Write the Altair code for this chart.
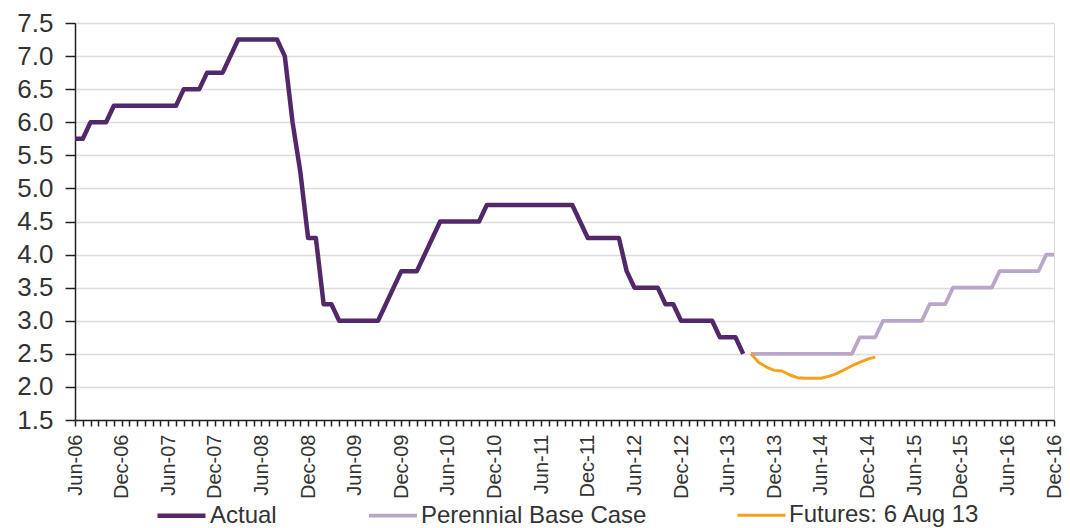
import altair as alt
import pandas as pd

# Month labels Jun-06 .. Dec-16
mon_names = ["Jan", "Feb", "Mar", "Apr", "May", "Jun", "Jul", "Aug", "Sep", "Oct", "Nov", "Dec"]
months = []
y, m = 2006, 5
while (y, m) <= (2016, 11):
    months.append(f"{mon_names[m]}-{y % 100:02d}")
    m += 1
    if m == 12:
        m = 0
        y += 1

# Actual cash rate, Jun-06 .. Aug-13
actual = [
    5.75, 5.75, 6.00, 6.00, 6.00, 6.25, 6.25,
    6.25, 6.25, 6.25, 6.25, 6.25, 6.25, 6.25, 6.50, 6.50, 6.50, 6.75, 6.75,
    6.75, 7.00, 7.25, 7.25, 7.25, 7.25, 7.25, 7.25, 7.00, 6.00, 5.25, 4.25,
    4.25, 3.25, 3.25, 3.00, 3.00, 3.00, 3.00, 3.00, 3.00, 3.25, 3.50, 3.75,
    3.75, 3.75, 4.00, 4.25, 4.50, 4.50, 4.50, 4.50, 4.50, 4.50, 4.75, 4.75,
    4.75, 4.75, 4.75, 4.75, 4.75, 4.75, 4.75, 4.75, 4.75, 4.75, 4.50, 4.25,
    4.25, 4.25, 4.25, 4.25, 3.75, 3.50, 3.50, 3.50, 3.50, 3.25, 3.25, 3.00,
    3.00, 3.00, 3.00, 3.00, 2.75, 2.75, 2.75, 2.50,
]
# Perennial base case, Sep-13 .. Dec-16
base_case = [
    2.50, 2.50, 2.50, 2.50,
    2.50, 2.50, 2.50, 2.50, 2.50, 2.50, 2.50, 2.50, 2.50, 2.50, 2.75, 2.75,
    2.75, 3.00, 3.00, 3.00, 3.00, 3.00, 3.00, 3.25, 3.25, 3.25, 3.50, 3.50,
    3.50, 3.50, 3.50, 3.50, 3.75, 3.75, 3.75, 3.75, 3.75, 3.75, 4.00, 4.00,
]
# Futures as at 6 Aug 13, Sep-13 .. Jan-15
futures = [
    2.50, 2.37, 2.30, 2.25,
    2.24, 2.18, 2.14, 2.13, 2.13, 2.13, 2.16, 2.20, 2.26, 2.32, 2.37, 2.42,
    2.45,
]

series_names = ["Actual", "Perennial Base Case", "Futures: 6 Aug 13"]
series_colors = ["#53286B", "#B9A6C9", "#F7A11A"]
series_widths = [4.5, 3, 3]
y_ticks = [1.5, 2.0, 2.5, 3.0, 3.5, 4.0, 4.5, 5.0, 5.5, 6.0, 6.5, 7.0, 7.5]

start_actual = 0
start_fc = months.index("Sep-13")

rows = []
for i, v in enumerate(actual):
    rows.append({"month": months[start_actual + i], "value": v, "series": series_names[0]})
for i, v in enumerate(base_case):
    rows.append({"month": months[start_fc + i], "value": v, "series": series_names[1]})
for i, v in enumerate(futures):
    rows.append({"month": months[start_fc + i], "value": v, "series": series_names[2]})
df = pd.DataFrame(rows)

FONT = "Liberation Sans"


def make_legend():
    return alt.Legend(
        title=None,
        orient="none",
        direction="horizontal",
        legendX=80,
        legendY=466,
        symbolType="stroke",
        symbolSize=2304,
        labelFont=FONT,
        labelFontSize=24,
        labelColor="#333333",
        labelOffset=2,
        labelLimit=400,
        columnPadding=84,
        padding=0,
    )


chart = alt.Chart(df).mark_line(strokeJoin="round", strokeCap="butt").encode(
    x=alt.X(
        "month:N",
        sort=months,
        scale=alt.Scale(type="point", padding=0, domain=months),
        axis=alt.Axis(
            title=None,
            values=months,
            labelAngle=-90,
            labelAlign="right",
            labelBaseline="middle",
            labelExpr="(slice(datum.value,0,3)=='Jun' || slice(datum.value,0,3)=='Dec') ? datum.value : ''",
            labelOverlap=False,
            labelFont=FONT,
            labelFontSize=20,
            labelColor="#333333",
            labelPadding=8,
            tickSize=6,
            tickColor="#222222",
            tickWidth=1.5,
            domainColor="#222222",
            domainWidth=1.5,
            grid=False,
        ),
    ),
    y=alt.Y(
        "value:Q",
        scale=alt.Scale(domain=[1.5, 7.5], nice=False, zero=False),
        axis=alt.Axis(
            title=None,
            values=y_ticks,
            format=".1f",
            labelFont=FONT,
            labelFontSize=26,
            labelColor="#333333",
            labelPadding=12,
            tickSize=10,
            tickColor="#222222",
            tickWidth=1.5,
            domainColor="#222222",
            domainWidth=1.5,
            grid=True,
            gridColor="#DCDCDC",
            gridWidth=1.5,
        ),
    ),
    color=alt.Color(
        "series:N",
        sort=series_names,
        scale=alt.Scale(domain=series_names, range=series_colors),
        legend=make_legend(),
    ),
    strokeWidth=alt.StrokeWidth(
        "series:N",
        sort=series_names,
        scale=alt.Scale(domain=series_names, range=series_widths),
        legend=make_legend(),
    ),
    detail="series:N",
).properties(
    width=979,
    height=397,
    autosize=alt.AutoSizeParams(type="none"),
    padding={"left": 75, "top": 23, "right": 16, "bottom": 108},
).configure_view(
    stroke="#C8C8C8", strokeWidth=1.5
).configure(background="white")

chart.save("out.html", embed_options={"renderer": "svg", "actions": False})
